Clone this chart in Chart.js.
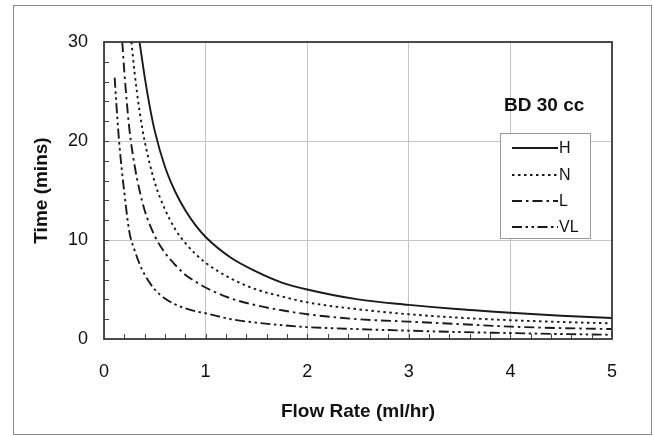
<!DOCTYPE html>
<html>
<head>
<meta charset="utf-8">
<script src="https://cdn.jsdelivr.net/npm/chart.js@4.4.1/dist/chart.umd.min.js"></script>
<style>
  html, body { margin: 0; padding: 0; background: #fff; }
  #wrap { width: 654px; height: 436px; position: relative; }
</style>
</head>
<body>
<div id="wrap"><canvas id="chart" width="654" height="436"></canvas></div>
<script>
// values
const seriesNames = ['H', 'N', 'L', 'VL'];

const rateH = [0.35, 0.4, 0.45, 0.5, 0.6, 0.7, 0.8, 0.9, 1, 1.25, 1.5, 1.75, 2, 2.5, 3, 3.5, 4, 4.5, 5];
const timeH = [30, 26.5, 23.5, 21, 17.4, 14.9, 13, 11.5, 10.3, 8.2, 6.8, 5.7, 5.0, 4.0, 3.45, 3.0, 2.65, 2.35, 2.12];

const rateN = [0.27, 0.3, 0.35, 0.4, 0.5, 0.6, 0.7, 0.8, 0.9, 1, 1.25, 1.5, 1.75, 2, 2.5, 3, 3.5, 4, 4.5, 5];
const timeN = [30, 27, 23, 20, 15.8, 13.1, 11.1, 9.7, 8.6, 7.7, 6.1, 5.0, 4.3, 3.7, 3.0, 2.5, 2.15, 1.9, 1.72, 1.58];

const rateL = [0.18, 0.2, 0.25, 0.3, 0.35, 0.4, 0.5, 0.6, 0.7, 0.8, 0.9, 1, 1.25, 1.5, 1.75, 2, 2.5, 3, 3.5, 4, 4.5, 5];
const timeL = [30, 27, 21.2, 17.6, 15, 13, 10.4, 8.7, 7.5, 6.5, 5.8, 5.2, 4.1, 3.4, 2.9, 2.5, 2.0, 1.75, 1.5, 1.25, 1.1, 1.0];

const rateVL = [0.105, 0.12, 0.15, 0.2, 0.25, 0.3, 0.35, 0.4, 0.5, 0.6, 0.7, 0.8, 0.9, 1, 1.25, 1.5, 1.75, 2, 2.5, 3, 3.5, 4, 4.5, 5];
const timeVL = [26.4, 24, 19.8, 14.8, 10.8, 9.0, 7.6, 6.5, 5.0, 4.1, 3.5, 3.1, 2.8, 2.6, 2.0, 1.65, 1.4, 1.2, 1.0, 0.84, 0.7, 0.6, 0.5, 0.43];

const xTicks = [0, 1, 2, 3, 4, 5];
const yTicks = [0, 10, 20, 30];

const FONT = "'Liberation Sans', Arial, sans-serif";

function toPoints(xs, ys) {
    return xs.map((x, i) => ({ x: x, y: ys[i] }));
}

const dashes = [[], [2.5, 3.5], [10, 4, 2.5, 4], [10, 3.5, 2.5, 3.5, 2.5, 3.5]];
const rates = [rateH, rateN, rateL, rateVL];
const times = [timeH, timeN, timeL, timeVL];

const datasets = seriesNames.map((name, i) => ({
    label: name,
    data: toPoints(rates[i], times[i]),
    borderColor: '#1a1a1a',
    borderWidth: 1.9,
    borderDash: dashes[i],
    pointRadius: 0,
    cubicInterpolationMode: 'monotone',
    fill: false
}));

// frame, minor ticks, plot border, inset legend
const decorPlugin = {
    id: 'decor',
    beforeDraw(chart) {
        const ctx = chart.ctx;
        ctx.save();
        ctx.fillStyle = '#fff';
        ctx.fillRect(0, 0, chart.width, chart.height);
        ctx.strokeStyle = '#888';
        ctx.lineWidth = 1;
        ctx.strokeRect(13.5, 5.5, 638, 429);
        ctx.restore();
    },
    afterDraw(chart) {
        const ctx = chart.ctx;
        const a = chart.chartArea;
        const xs = chart.scales.x;
        const ys = chart.scales.y;
        ctx.save();
        ctx.strokeStyle = '#444';
        ctx.lineWidth = 1;
        ctx.beginPath();
        for (let v = 0.2; v < 5; v += 0.2) {
            const px = Math.round(xs.getPixelForValue(v)) + 0.5;
            ctx.moveTo(px, a.bottom);
            ctx.lineTo(px, a.bottom - 5);
        }
        for (let v = 2; v < 30; v += 2) {
            const py = Math.round(ys.getPixelForValue(v)) + 0.5;
            ctx.moveTo(a.left, py);
            ctx.lineTo(a.left + 5, py);
        }
        ctx.stroke();

        ctx.strokeStyle = '#3a3a3a';
        ctx.lineWidth = 1.8;
        ctx.strokeRect(a.left, a.top, a.right - a.left, a.bottom - a.top);

        // caption
        ctx.fillStyle = '#111';
        ctx.font = 'bold 19px ' + FONT;
        ctx.textBaseline = 'middle';
        ctx.textAlign = 'left';
        ctx.fillText('BD 30 cc', 504, 106);

        // legend box
        ctx.fillStyle = '#fff';
        ctx.fillRect(500, 133, 91, 106);
        ctx.strokeStyle = '#999';
        ctx.lineWidth = 1;
        ctx.strokeRect(500.5, 133.5, 90, 105);
        const rowY = [148, 175, 201, 227];
        ctx.font = '16px ' + FONT;
        chart.data.datasets.forEach((ds, i) => {
            ctx.strokeStyle = '#1a1a1a';
            ctx.lineWidth = 1.8;
            ctx.setLineDash(ds.borderDash);
            ctx.beginPath();
            ctx.moveTo(512, rowY[i]);
            ctx.lineTo(558, rowY[i]);
            ctx.stroke();
            ctx.setLineDash([]);
            ctx.fillStyle = '#111';
            ctx.fillText(ds.label, 559, rowY[i] + 1);
        });
        ctx.restore();
    }
};

new Chart(document.getElementById('chart'), {
    type: 'line',
    data: { datasets: datasets },
    plugins: [decorPlugin],
    options: {
        responsive: false,
        animation: false,
        layout: { padding: { top: 42, right: 42, left: 0, bottom: 0 } },
        plugins: { legend: { display: false }, tooltip: { enabled: false } },
        scales: {
            x: {
                type: 'linear',
                min: 0,
                max: 5,
                afterFit: s => { s.height = 97; },
                afterBuildTicks: s => { s.ticks = xTicks.map(v => ({ value: v })); },
                grid: { color: '#c4c4c4', lineWidth: 1, drawTicks: false },
                border: { display: false },
                ticks: { padding: 22, color: '#111', font: { family: FONT, size: 18 }, maxRotation: 0 },
                title: {
                    display: true,
                    text: 'Flow Rate (ml/hr)',
                    color: '#111',
                    font: { family: FONT, size: 19, weight: 'bold' },
                    padding: { top: 0, bottom: 12.6 }
                }
            },
            y: {
                type: 'linear',
                min: 0,
                max: 30,
                afterFit: s => { s.width = 104; },
                afterBuildTicks: s => { s.ticks = yTicks.map(v => ({ value: v })); },
                grid: { color: '#c4c4c4', lineWidth: 1, drawTicks: false },
                border: { display: false },
                ticks: { padding: 16, color: '#111', font: { family: FONT, size: 18 } },
                title: {
                    display: true,
                    text: 'Time (mins)',
                    color: '#111',
                    font: { family: FONT, size: 19, weight: 'bold' },
                    padding: { top: 30.6, bottom: 0 }
                }
            }
        }
    }
});
</script>
</body>
</html>
